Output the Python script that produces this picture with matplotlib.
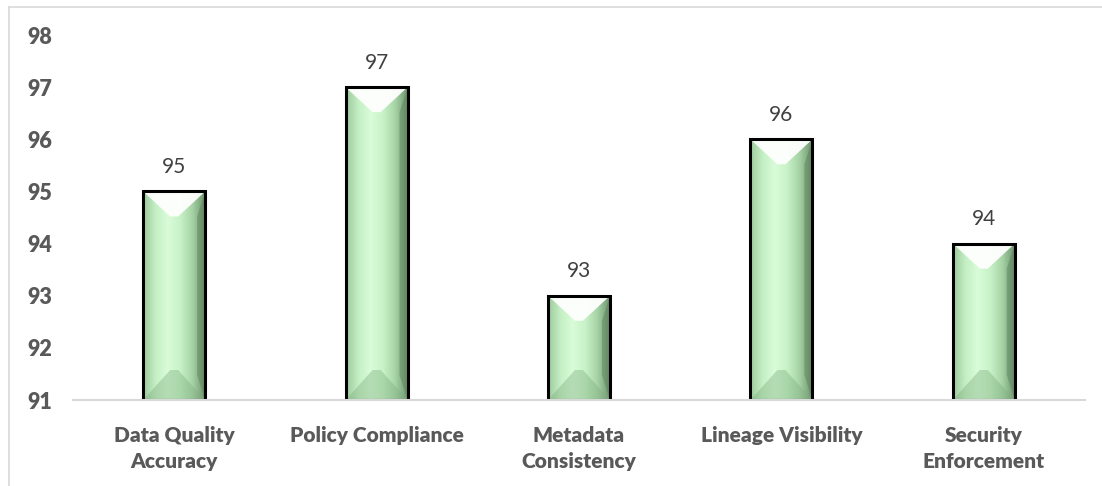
import numpy as np
import matplotlib
matplotlib.use('Agg')
import matplotlib.pyplot as plt
from matplotlib.patches import Polygon, Rectangle
from matplotlib.lines import Line2D
from matplotlib.colors import LinearSegmentedColormap

categories = ['Data Quality\nAccuracy', 'Policy Compliance', 'Metadata\nConsistency',
              'Lineage Visibility', 'Security\nEnforcement']
values = [95, 97, 93, 96, 94]
y_ticks = [91, 92, 93, 94, 95, 96, 97, 98]

plt.rcParams['font.family'] = ['Lato', 'DejaVu Sans']

W, H = 1102, 486
fig = plt.figure(figsize=(W / 100, H / 100), dpi=100)
ax_l, ax_r, ax_t, ax_b = 73, 1085, 35, 400
ax = fig.add_axes([ax_l / W, 1 - ax_b / H, (ax_r - ax_l) / W, (ax_b - ax_t) / H])
ax.set_xlim(-0.5, len(categories) - 0.5)
ax.set_ylim(91, 98)

# pixel -> data scales
px_x = (len(categories)) / (ax_r - ax_l)
px_y = 7.0 / (ax_b - ax_t)

bar_w = 62 * px_x
bev_x = 27 * px_x
bev_y = 25 * px_y

grad_cmap = LinearSegmentedColormap.from_list(
    'side', ['#9cc99c', '#c4efc4', '#d9fcd9', '#c8f2c8', '#a6d3a6', '#6e946e'])
grad = np.linspace(0, 1, 256).reshape(1, -1)

for i, v in enumerate(values):
    x0, x1 = i - bar_w / 2, i + bar_w / 2
    y0, y1 = 91, v
    im = ax.imshow(grad, cmap=grad_cmap, aspect='auto', extent=[x0, x1, y0, y1],
                   interpolation='bicubic', zorder=2)
    clip = Rectangle((x0, y0), bar_w, y1 - y0, transform=ax.transData)
    im.set_clip_path(clip)
    # top highlight bevel
    top = Polygon([(x0, y1), (x1, y1), (x1 - bev_x, y1 - bev_y), (x0 + bev_x, y1 - bev_y)],
                  closed=True, facecolor='white', edgecolor='none', alpha=0.95, zorder=3)
    ax.add_patch(top)
    # bottom darker bevel
    bot = Polygon([(x0, y0), (x1, y0), (x1 - bev_x, y0 + bev_y * 1.2), (x0 + bev_x, y0 + bev_y * 1.2)],
                  closed=True, facecolor='#7fae7f', edgecolor='none', alpha=0.4, zorder=3)
    ax.add_patch(bot)
    # right side darker bevel
    right = Polygon([(x1, y0), (x1, y1), (x1 - bev_x * 0.3, y1 - bev_y), (x1 - bev_x * 0.3, y0 + bev_y)],
                    closed=True, facecolor='#4d6f4d', edgecolor='none', alpha=0.35, zorder=3)
    ax.add_patch(right)
    ax.add_patch(Rectangle((x0, y0), bar_w, y1 - y0, facecolor='none',
                           edgecolor='black', linewidth=2.2, zorder=4))
    ax.text(i, v + 0.47, str(v), ha='center', va='center', fontsize=15, color='#404040')

for s in ['top', 'right', 'left']:
    ax.spines[s].set_visible(False)
ax.spines['bottom'].set_color('#d9d9d9')
ax.spines['bottom'].set_linewidth(1.5)
ax.spines['bottom'].set_zorder(5)

ax.set_yticks(y_ticks)
ax.set_yticklabels([str(t) for t in y_ticks], fontsize=15.5, fontweight='heavy', color='#595959')
ax.set_xticks(range(len(categories)))
ax.set_xticklabels(categories, fontsize=15, fontweight='heavy', color='#595959', linespacing=1.4)
ax.tick_params(axis='y', length=0, pad=15)
ax.tick_params(axis='x', length=0, pad=19)

# chart border
fig.add_artist(Line2D([9 / W, 9 / W], [0, 1 - 7 / H], color='#d9d9d9', linewidth=1.2))
fig.add_artist(Line2D([9 / W, 1], [1 - 7 / H, 1 - 7 / H], color='#d9d9d9', linewidth=1.2))

fig.savefig('out.png', dpi=100)
